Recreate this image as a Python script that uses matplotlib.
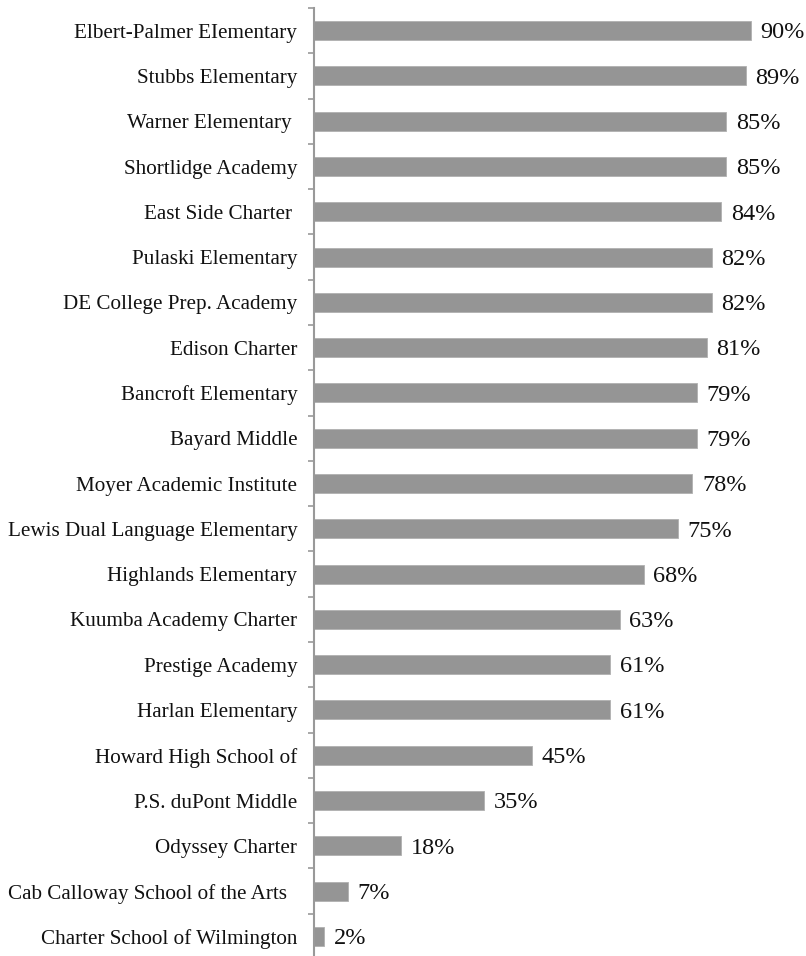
import matplotlib.pyplot as plt
import numpy as np

schools = ['Elbert-Palmer EIementary', 'Stubbs Elementary', 'Warner Elementary ',
           'Shortlidge Academy', 'East Side Charter ', 'Pulaski Elementary',
           'DE College Prep. Academy', 'Edison Charter', 'Bancroft Elementary',
           'Bayard Middle', 'Moyer Academic Institute', 'Lewis Dual Language Elementary',
           'Highlands Elementary', 'Kuumba Academy Charter', 'Prestige Academy',
           'Harlan Elementary', 'Howard High School of', 'P.S. duPont Middle',
           'Odyssey Charter', 'Cab Calloway School of the Arts  ', 'Charter School of Wilmington']
pct = [90, 89, 85, 85, 84, 82, 82, 81, 79, 79, 78, 75, 68, 63, 61, 61, 45, 35, 18, 7, 2]

plt.rcParams['font.family'] = ['Liberation Serif', 'DejaVu Serif']

fig = plt.figure(figsize=(8.06, 9.56), dpi=100)
ax = fig.add_axes([314/806, -3/956, 485/806, 951/956])

y = np.arange(len(schools))
ax.barh(y, pct, height=0.42, color='#959595', edgecolor='#b0b0b0', linewidth=0.6)
for yi, v in zip(y, pct):
    ax.text(v + 2.0, yi + 0.05, f'{v}%', va='center', ha='left', fontsize=17.5, color='#111111')

ax.set_xlim(0, 100)
ax.set_ylim(len(schools) - 0.5, -0.5)
ax.set_yticks(y)
ax.set_yticklabels(schools, fontsize=15.2, color='#111111')
ax.set_yticks(np.arange(len(schools) + 1) - 0.5, minor=True)
ax.tick_params(axis='y', which='major', length=0, pad=12)
ax.tick_params(axis='y', which='minor', length=4, width=1.2, color='#999999')
ax.set_xticks([])
for s in ['top', 'right', 'bottom']:
    ax.spines[s].set_visible(False)
ax.spines['left'].set_color('#999999')
ax.spines['left'].set_linewidth(1.5)

fig.savefig('out.png', dpi=100)
